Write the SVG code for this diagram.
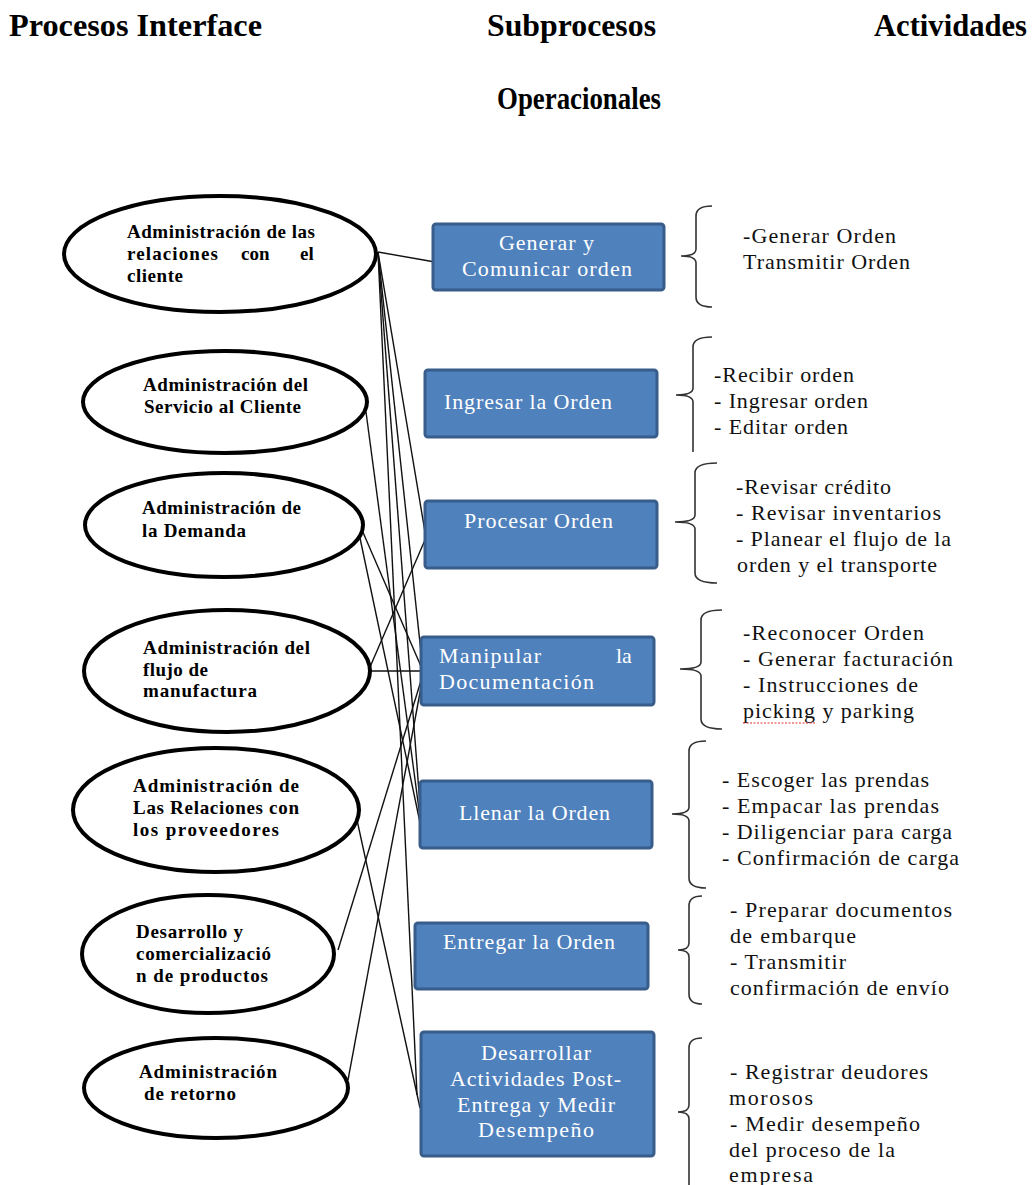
<svg xmlns="http://www.w3.org/2000/svg" width="1033" height="1185" viewBox="0 0 1033 1185">
  <style>
    .hdr { font-family: "Liberation Serif", "Times New Roman", serif; font-weight: bold; font-size: 32px; fill: #000; }
    .proc { fill: #fff; stroke: #000; stroke-width: 4; }
    .ptxt { font-family: "Liberation Serif", "Times New Roman", serif; font-weight: bold; font-size: 19px; fill: #000; }
    .box { fill: #4F81BD; stroke: #385D8A; stroke-width: 3; }
    .btxt { font-family: "Liberation Serif", "Times New Roman", serif; font-size: 22px; fill: #fff; }
    .atxt { font-family: "Liberation Serif", "Times New Roman", serif; font-size: 22px; fill: #111; }
    .brace { fill: none; stroke: #333; stroke-width: 1.6; }
    .link { stroke: #111; stroke-width: 1.4; fill: none; }
  </style>

  <!-- column headings -->
  <g id="headings">
    <text class="hdr" x="9" y="36" textLength="253" lengthAdjust="spacingAndGlyphs">Procesos Interface</text>
    <text class="hdr" x="487" y="36" textLength="169" lengthAdjust="spacingAndGlyphs">Subprocesos</text>
    <text class="hdr" x="874" y="36" textLength="153" lengthAdjust="spacingAndGlyphs">Actividades</text>
    <text class="hdr" x="497" y="109" textLength="164" lengthAdjust="spacingAndGlyphs">Operacionales</text>
  </g>

  <!-- connectors between interface processes and subprocesses -->
  <g id="connectors">
    <line class="link" x1="378" y1="252" x2="435" y2="262"/>
    <line class="link" x1="378" y1="252" x2="425" y2="532"/>
    <line class="link" x1="378" y1="252" x2="423" y2="671"/>
    <line class="link" x1="378" y1="252" x2="422" y2="832"/>
    <line class="link" x1="378" y1="252" x2="417" y2="1095"/>
    <line class="link" x1="366" y1="412" x2="422" y2="832"/>
    <line class="link" x1="362" y1="530" x2="423" y2="671"/>
    <line class="link" x1="360" y1="538" x2="422" y2="832"/>
    <line class="link" x1="370" y1="667" x2="428" y2="533"/>
    <line class="link" x1="370" y1="671" x2="424" y2="671"/>
    <line class="link" x1="357" y1="820" x2="420" y2="1108"/>
    <line class="link" x1="338" y1="950" x2="424" y2="671"/>
    <line class="link" x1="348" y1="1080" x2="424" y2="671"/>
  </g>

  <!-- interface processes -->
  <g id="p-clientes">
    <ellipse class="proc" cx="220" cy="254" rx="156" ry="58"/>
    <text class="ptxt" x="127" y="238" textLength="188">Administración de las</text>
    <text class="ptxt" x="127" y="260" textLength="91">relaciones</text>
    <text class="ptxt" x="241" y="260">con</text>
    <text class="ptxt" x="300" y="260">el</text>
    <text class="ptxt" x="127" y="282" textLength="56">cliente</text>
  </g>
  <g id="p-servicio">
    <ellipse class="proc" cx="225" cy="402" rx="142" ry="51"/>
    <text class="ptxt" x="143" y="391" textLength="165">Administración del</text>
    <text class="ptxt" x="144" y="413" textLength="157">Servicio al Cliente</text>
  </g>
  <g id="p-demanda">
    <ellipse class="proc" cx="224" cy="525" rx="139" ry="52"/>
    <text class="ptxt" x="142" y="514" textLength="159">Administración de</text>
    <text class="ptxt" x="142" y="537" textLength="104">la Demanda</text>
  </g>
  <g id="p-manufactura">
    <ellipse class="proc" cx="227" cy="671" rx="143" ry="61"/>
    <text class="ptxt" x="143" y="654" textLength="167">Administración del</text>
    <text class="ptxt" x="143" y="676" textLength="65">flujo de</text>
    <text class="ptxt" x="143" y="697" textLength="114">manufactura</text>
  </g>
  <g id="p-proveedores">
    <ellipse class="proc" cx="216" cy="810" rx="143" ry="62"/>
    <text class="ptxt" x="133" y="792" textLength="166">Administración  de</text>
    <text class="ptxt" x="133" y="814" textLength="166">Las Relaciones con</text>
    <text class="ptxt" x="133" y="836" textLength="146">los  proveedores</text>
  </g>
  <g id="p-productos">
    <ellipse class="proc" cx="208" cy="954" rx="126" ry="59"/>
    <text class="ptxt" x="136" y="938" textLength="107">Desarrollo y</text>
    <text class="ptxt" x="136" y="960" textLength="135">comercializació</text>
    <text class="ptxt" x="136" y="982" textLength="132">n de productos</text>
  </g>
  <g id="p-retorno">
    <ellipse class="proc" cx="216" cy="1088" rx="132" ry="50"/>
    <text class="ptxt" x="139" y="1078" textLength="138">Administración</text>
    <text class="ptxt" x="144" y="1100" textLength="92">de retorno</text>
  </g>

  <!-- subprocesses -->
  <g id="s-generar">
    <rect class="box" x="433" y="224" width="231" height="66" rx="3"/>
    <text class="btxt" x="499" y="250" textLength="95">Generar y</text>
    <text class="btxt" x="462" y="276" textLength="170">Comunicar orden</text>
  </g>
  <g id="s-ingresar">
    <rect class="box" x="425" y="370" width="232" height="67" rx="3"/>
    <text class="btxt" x="444" y="409" textLength="168">Ingresar la Orden</text>
  </g>
  <g id="s-procesar">
    <rect class="box" x="425" y="501" width="232" height="67" rx="3"/>
    <text class="btxt" x="464" y="528" textLength="149">Procesar Orden</text>
  </g>
  <g id="s-manipular">
    <rect class="box" x="421" y="637" width="233" height="68" rx="3"/>
    <text class="btxt" x="439" y="663" textLength="102">Manipular</text>
    <text class="btxt" x="616" y="663">la</text>
    <text class="btxt" x="439" y="689" textLength="155">Documentación</text>
  </g>
  <g id="s-llenar">
    <rect class="box" x="420" y="781" width="232" height="67" rx="3"/>
    <text class="btxt" x="459" y="820" textLength="151">Llenar la Orden</text>
  </g>
  <g id="s-entregar">
    <rect class="box" x="415" y="923" width="233" height="66" rx="3"/>
    <text class="btxt" x="443" y="949" textLength="172">Entregar la Orden</text>
  </g>
  <g id="s-postentrega">
    <rect class="box" x="421" y="1032" width="233" height="124" rx="3"/>
    <text class="btxt" x="481" y="1060" textLength="110">Desarrollar</text>
    <text class="btxt" x="450" y="1086" textLength="171">Actividades Post-</text>
    <text class="btxt" x="457" y="1112" textLength="158">Entrega y  Medir</text>
    <text class="btxt" x="478" y="1137" textLength="116">Desempeño</text>
  </g>

  <!-- operational activities with braces -->
  <g id="a-generar">
    <path class="brace" d="M712,206 Q696,206 696,216 L696,249 Q696,256 681,256 Q696,256 696,263 L696,297 Q696,307 712,307"/>
    <text class="atxt" x="743" y="243" textLength="153">-Generar Orden</text>
    <text class="atxt" x="743" y="269" textLength="167">Transmitir Orden</text>
  </g>
  <g id="a-ingresar">
    <path class="brace" d="M712,337 Q693,337 693,347 L693,388 Q693,395 676,395 Q693,395 693,402 L693,452"/>
    <text class="atxt" x="714" y="382" textLength="140">-Recibir orden</text>
    <text class="atxt" x="714" y="408" textLength="154">- Ingresar orden</text>
    <text class="atxt" x="714" y="434" textLength="134">- Editar orden</text>
  </g>
  <g id="a-procesar">
    <path class="brace" d="M717,463 Q695,463 695,473 L695,515 Q695,522 675,522 Q695,522 695,529 L695,573 Q695,583 717,583"/>
    <text class="atxt" x="736" y="494" textLength="155">-Revisar crédito</text>
    <text class="atxt" x="736" y="520" textLength="205">- Revisar inventarios</text>
    <text class="atxt" x="736" y="546" textLength="215">- Planear el flujo de la</text>
    <text class="atxt" x="737" y="572" textLength="200">orden y el transporte</text>
  </g>
  <g id="a-manipular">
    <path class="brace" d="M722,610 Q701,610 701,620 L701,662 Q701,669 680,669 Q701,669 701,676 L701,719 Q701,729 722,729"/>
    <text class="atxt" x="743" y="640" textLength="181">-Reconocer Orden</text>
    <text class="atxt" x="743" y="666" textLength="210">- Generar facturación</text>
    <text class="atxt" x="743" y="692" textLength="175">- Instrucciones de</text>
    <text class="atxt" x="743" y="718" textLength="171">picking y parking</text>
    <line x1="743" y1="723" x2="815" y2="723" stroke="#e03030" stroke-width="1" stroke-dasharray="2,1.5"/>
  </g>
  <g id="a-llenar">
    <path class="brace" d="M706,741 Q689,741 689,751 L689,807 Q689,814 672,814 Q689,814 689,821 L689,878 Q689,888 706,888"/>
    <text class="atxt" x="722" y="787" textLength="207">- Escoger las prendas</text>
    <text class="atxt" x="722" y="813" textLength="217">- Empacar las prendas</text>
    <text class="atxt" x="722" y="839" textLength="230">- Diligenciar para carga</text>
    <text class="atxt" x="722" y="865" textLength="237">- Confirmación de carga</text>
  </g>
  <g id="a-entregar">
    <path class="brace" d="M702,896 Q689,896 689,906 L689,943 Q689,950 678,950 Q689,950 689,957 L689,994 Q689,1004 702,1004"/>
    <text class="atxt" x="730" y="917" textLength="222">- Preparar documentos</text>
    <text class="atxt" x="730" y="943" textLength="126">de embarque</text>
    <text class="atxt" x="730" y="969" textLength="116">- Transmitir</text>
    <text class="atxt" x="730" y="995" textLength="219">confirmación de envío</text>
  </g>
  <g id="a-postentrega">
    <path class="brace" d="M702,1038 Q689,1038 689,1048 L689,1105 Q689,1112 678,1112 Q689,1112 689,1119 L689,1190"/>
    <text class="atxt" x="730" y="1079" textLength="198">- Registrar deudores</text>
    <text class="atxt" x="729" y="1105" textLength="84">morosos</text>
    <text class="atxt" x="730" y="1131" textLength="190">- Medir desempeño</text>
    <text class="atxt" x="729" y="1157" textLength="166">del proceso de la</text>
    <text class="atxt" x="729" y="1182" textLength="84">empresa</text>
  </g>
</svg>
